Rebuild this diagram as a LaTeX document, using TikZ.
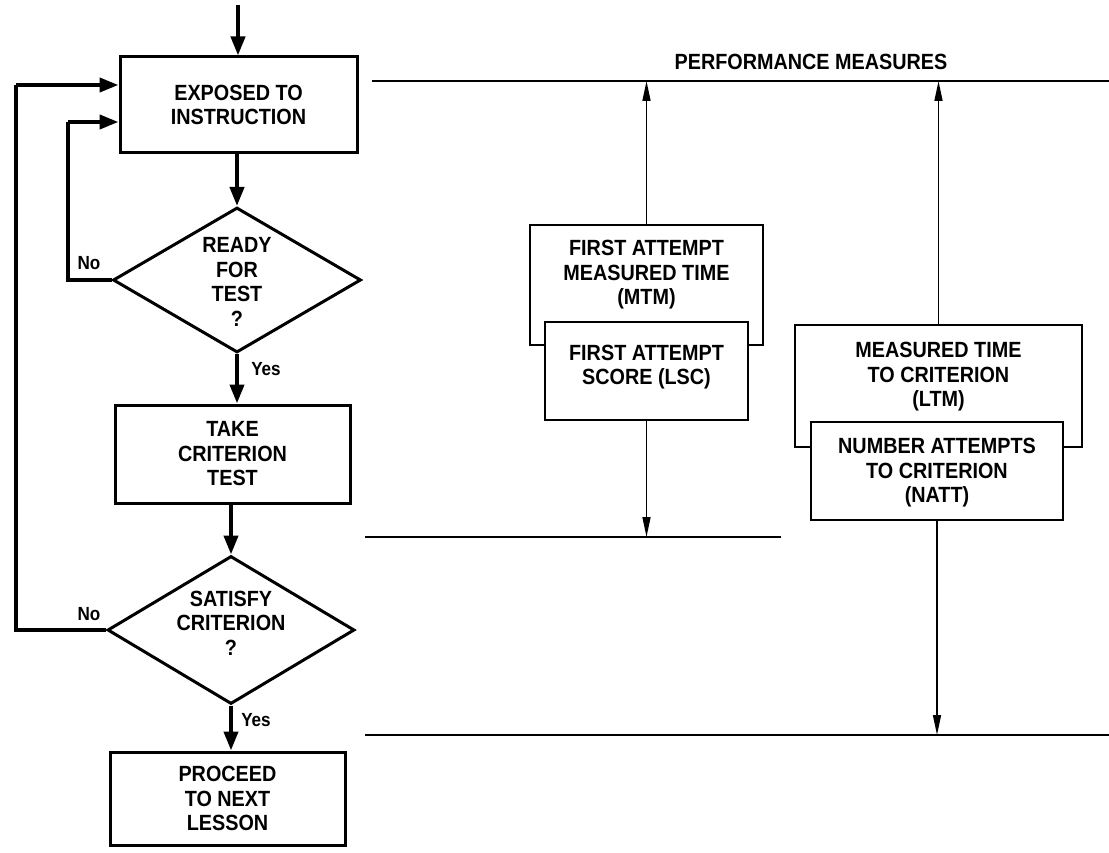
\documentclass[tikz,border=0pt]{standalone}
\usepackage{fontspec}
\setmainfont{Liberation Sans}[FakeStretch=0.9]
\usetikzlibrary{arrows.meta,shapes.geometric,calc}
\begin{document}
\begin{tikzpicture}[x=1pt,y=-1pt,
  every node/.style={font=\bfseries\fontsize{22}{24.5}\selectfont, align=center, inner sep=0pt},
  flowbox/.style={draw, rectangle, line width=3pt},
  decision/.style={draw, diamond, line width=3pt, aspect=1.7},
  measbox/.style={draw, rectangle, line width=2.5pt},
  flowarrow/.style={line width=4pt, -{Triangle[length=19pt,width=14pt]}},
  flowline/.style={line width=4pt},
  measarrow/.style={line width=1.6pt, -{Triangle[length=20pt,width=8pt]}},
  rule/.style={line width=2pt},
  lbl/.style={font=\bfseries\fontsize{19}{20}\selectfont}
]
\useasboundingbox (0,0) rectangle (1109,853);

% ---------- flowchart ----------
\coordinate (start) at (238,5);
\node[flowbox, minimum width=237pt, minimum height=96pt] (b1) at (238.5,105) {EXPOSED TO\\INSTRUCTION};
\node[decision, minimum width=248pt, minimum height=145pt] (d1) at (237,280) {};
\node (d1t) at (237,282) {READY\\FOR\\TEST\\?};
\node[flowbox, minimum width=235pt, minimum height=98pt] (b2) at (232.5,454) {TAKE\\CRITERION\\TEST};
\node[decision, minimum width=247pt, minimum height=148pt] (d2) at (231,630) {};
\node (d2t) at (231,623) {SATISFY\\CRITERION\\?};
\node[flowbox, minimum width=235pt, minimum height=93pt] (b3) at (227.5,798.5) {PROCEED\\TO NEXT\\LESSON};

\draw[flowarrow] (start) -- (b1.north -| start);
\draw[flowarrow] (b1.south -| d1.north) -- (d1.north);
\draw[flowarrow] (d1.south) -- (d1.south |- b2.north);
\draw[flowarrow] (b2.south -| d2.north) -- (d2.north);
\draw[flowarrow] (d2.south) -- (d2.south |- b3.north);

\coordinate (in1) at ([yshift=-17pt]b1.west);
\coordinate (in2) at ([yshift=20pt]b1.west);
\coordinate (c1) at (68,280);
\coordinate (c2) at (16,630);
\draw[flowline] (d1.west) -- (c1) -- (c1 |- in1);
\draw[flowarrow] (c1 |- in1) -- (in1);
\draw[flowline] (d2.west) -- (c2) -- (c2 |- in2);
\draw[flowarrow] (c2 |- in2) -- (in2);

\node[lbl] (no1) at (89,263) {No};
\node[lbl] (yes1) at (266,369) {Yes};
\node[lbl] (no2) at (89,614) {No};
\node[lbl] (yes2) at (256,720) {Yes};

% ---------- performance measures ----------
\coordinate (r1a) at (372,81);
\coordinate (r1b) at (1109,81);
\coordinate (r2a) at (365,537);
\coordinate (r2b) at (781,537);
\coordinate (r3a) at (365,735);
\coordinate (r3b) at (1109,735);
\draw[rule] (r1a) -- (r1b);
\draw[rule] (r2a) -- (r2b);
\draw[rule] (r3a) -- (r3b);
\node (pm) at (811,62) {PERFORMANCE MEASURES};

\node[measbox, minimum width=233pt, minimum height=120pt] (mtm) at (646.5,285) {};
\node (mtmt) at (646.5,275) {FIRST ATTEMPT\\MEASURED TIME\\(MTM)};
\node[measbox, fill=white, minimum width=203pt, minimum height=98pt] (lsc) at (646.5,371) {};
\node (lsct) at (646.5,367) {FIRST ATTEMPT\\SCORE (LSC)};

\node[measbox, minimum width=287pt, minimum height=122pt] (ltm) at (938.5,386) {};
\node (ltmt) at (938.5,377) {MEASURED TIME\\TO CRITERION\\(LTM)};
\node[measbox, fill=white, minimum width=252pt, minimum height=98pt] (natt) at (937,471) {};
\node (nattt) at (937,473) {NUMBER ATTEMPTS\\TO CRITERION\\(NATT)};

\draw[measarrow] (mtm.north) -- (mtm.north |- r1a);
\draw[measarrow] (lsc.south) -- (lsc.south |- r2a);
\draw[measarrow] (ltm.north) -- (ltm.north |- r1a);
\draw[measarrow] (natt.south) -- (natt.south |- r3a);
\end{tikzpicture}
\end{document}
